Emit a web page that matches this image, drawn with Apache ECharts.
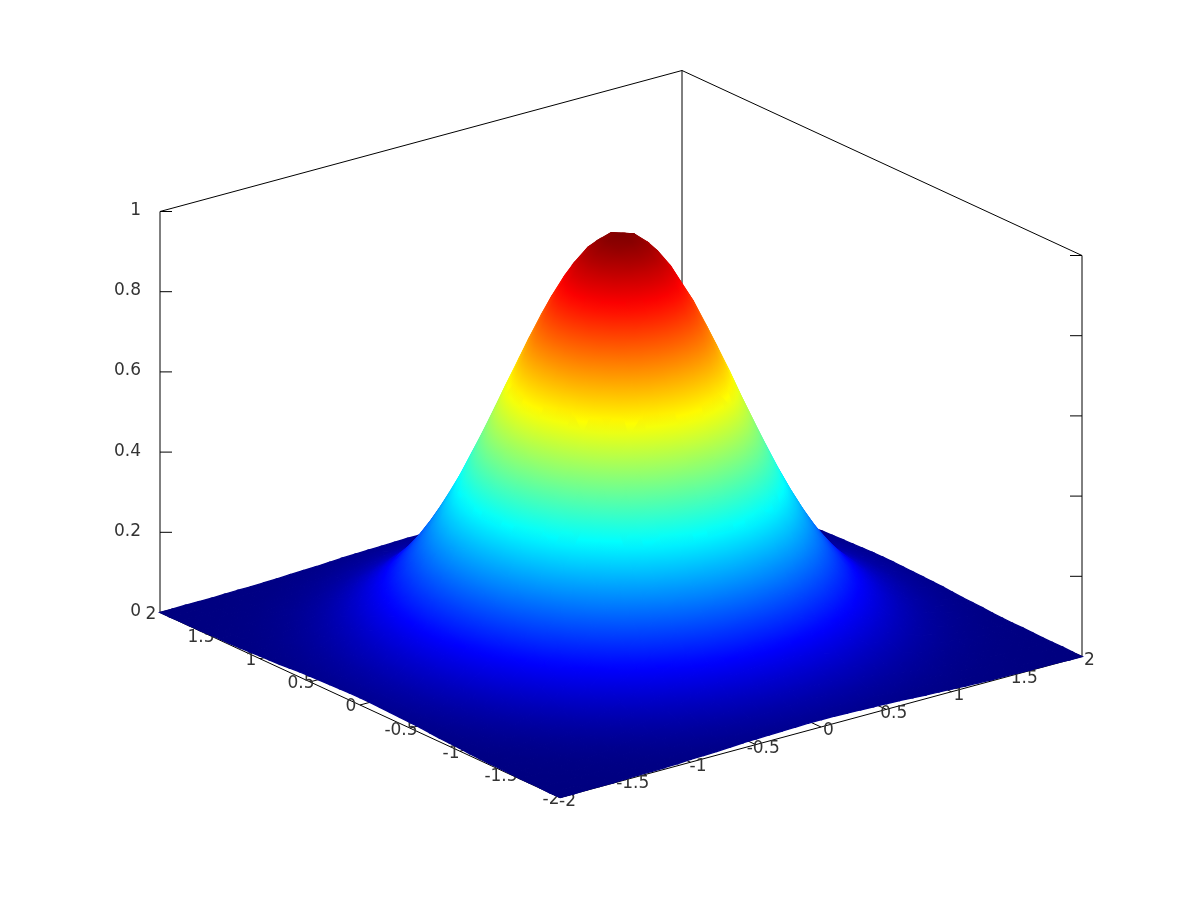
<!DOCTYPE html>
<html>
<head>
<meta charset="utf-8">
<style>
  html, body { margin: 0; background: #fff; }
  #main { width: 1200px; height: 900px; }
</style>
<script src="https://cdn.jsdelivr.net/npm/echarts@6/dist/echarts.min.js"></script>
</head>
<body>
<div id="main"></div>
<script type="text/javascript">
var xTicks = [-2, -1.5, -1, -0.5, 0, 0.5, 1, 1.5, 2];
var yTicks = [-2, -1.5, -1, -0.5, 0, 0.5, 1, 1.5, 2];
var zTicks = [0, 0.2, 0.4, 0.6, 0.8, 1];

// |x| and |y| of the mesh nodes; the hill is mirrored in both axes so one quadrant is listed
var gridValues = [0, .1, .2, .3, .4, .5, .6, .7, .8, .9, 1, 1.1, 1.2, 1.3, 1.4, 1.5, 1.6, 1.7, 1.8, 1.9, 2];

// surface height, one row per |y|, one column per |x|
var zRows = [
  [1, .990, .961, .914, .852, .779, .698, .613, .527, .445, .368, .298, .237, .185, .141, .105, .077, .056, .039, .027, .018],
  [.990, .980, .951, .905, .843, .771, .691, .607, .522, .441, .364, .295, .235, .183, .140, .104, .076, .055, .039, .027, .018],
  [.961, .951, .923, .878, .819, .749, .671, .589, .506, .428, .354, .286, .228, .178, .135, .101, .074, .054, .037, .026, .017],
  [.914, .905, .878, .835, .779, .712, .638, .560, .482, .407, .336, .272, .217, .169, .129, .096, .070, .051, .036, .025, .016],
  [.852, .843, .819, .779, .726, .664, .595, .522, .449, .379, .314, .254, .202, .158, .120, .089, .066, .048, .033, .023, .015],
  [.779, .771, .749, .712, .664, .607, .544, .478, .411, .347, .287, .232, .185, .144, .110, .082, .060, .044, .030, .021, .014],
  [.698, .691, .671, .638, .595, .544, .487, .428, .368, .311, .257, .208, .165, .129, .098, .073, .054, .039, .027, .019, .013],
  [.613, .607, .589, .560, .522, .478, .428, .376, .323, .273, .226, .183, .145, .113, .086, .064, .047, .034, .024, .017, .011],
  [.527, .522, .506, .482, .449, .411, .368, .323, .278, .235, .194, .157, .125, .097, .074, .055, .041, .030, .021, .014, .009],
  [.445, .441, .428, .407, .379, .347, .311, .273, .235, .198, .164, .133, .105, .082, .063, .047, .034, .025, .017, .012, .008],
  [.368, .364, .354, .336, .314, .287, .257, .226, .194, .164, .135, .110, .087, .068, .052, .039, .028, .021, .014, .010, .007],
  [.298, .295, .286, .272, .254, .232, .208, .183, .157, .133, .110, .089, .071, .055, .042, .031, .023, .017, .012, .008, .005],
  [.237, .235, .228, .217, .202, .185, .165, .145, .125, .105, .087, .071, .056, .044, .033, .025, .018, .013, .009, .006, .004],
  [.185, .183, .178, .169, .158, .144, .129, .113, .097, .082, .068, .055, .044, .034, .026, .019, .014, .010, .007, .005, .003],
  [.141, .140, .135, .129, .120, .110, .098, .086, .074, .063, .052, .042, .033, .026, .020, .015, .011, .008, .005, .004, .003],
  [.105, .104, .101, .096, .089, .082, .073, .064, .055, .047, .039, .031, .025, .019, .015, .011, .008, .006, .004, .003, .002],
  [.077, .076, .074, .070, .066, .060, .054, .047, .041, .034, .028, .023, .018, .014, .011, .008, .006, .004, .003, .002, .001],
  [.056, .055, .054, .051, .048, .044, .039, .034, .030, .025, .021, .017, .013, .010, .008, .006, .004, .003, .002, .002, .001],
  [.039, .039, .037, .036, .033, .030, .027, .024, .021, .017, .014, .012, .009, .007, .005, .004, .003, .002, .002, .001, .001],
  [.027, .027, .026, .025, .023, .021, .019, .017, .014, .012, .010, .008, .006, .005, .004, .003, .002, .002, .001, .001, 0],
  [.018, .018, .017, .016, .015, .014, .013, .011, .009, .008, .007, .005, .004, .003, .003, .002, .001, .001, .001, 0, 0]
];

var jetColors = ['#00007f', '#0000ff', '#0080ff', '#00ffff', '#80ff80', '#ffff00', '#ff8000', '#ff0000', '#7f0000'];

var fontStyle = '17px "DejaVu Sans"';
var n = gridValues.length - 1;

// view of the box, screen units per axis unit
function project(x, y, z) {
  return [
    621 + 130.5 * x - 100 * y,
    634.5 - 35.25 * x - 46.25 * y - 401 * z
  ];
}

function nodeX(i) { return i < n ? -gridValues[n - i] : gridValues[i - n]; }
function nodeZ(ix, iy) { return zRows[Math.abs(iy - n)][Math.abs(ix - n)]; }

// back corner first, so nearer cells paint over farther ones
var cells = [];
for (var iy = 2 * n - 1; iy >= 0; iy--) {
  for (var ix = 2 * n - 1; ix >= 0; ix--) {
    cells.push([ix, iy]);
  }
}

function cellFill(pts, zs) {
  var low = Math.min.apply(null, zs), high = Math.max.apply(null, zs);
  var mean = (zs[0] + zs[1] + zs[2] + zs[3]) / 4;
  var flat = echarts.color.lerp(mean, jetColors);
  var ax = pts[2][0] - pts[0][0], ay = pts[2][1] - pts[0][1], dza = zs[2] - zs[0];
  var bx = pts[3][0] - pts[1][0], by = pts[3][1] - pts[1][1], dzb = zs[3] - zs[1];
  var det = ax * by - ay * bx;
  if (Math.abs(det) < 20 || high - low < 0.0005) return flat;
  // plane through the cell centre, its slope gives the gradient direction on screen
  var gx = (dza * by - dzb * ay) / det;
  var gy = (ax * dzb - bx * dza) / det;
  var g2 = gx * gx + gy * gy;
  if (g2 === 0) return flat;
  var cx = (pts[0][0] + pts[1][0] + pts[2][0] + pts[3][0]) / 4;
  var cy = (pts[0][1] + pts[1][1] + pts[2][1] + pts[3][1]) / 4;
  var sx = cx + gx / g2 * (low - mean), sy = cy + gy / g2 * (low - mean);
  var ex = cx + gx / g2 * (high - mean), ey = cy + gy / g2 * (high - mean);
  if (Math.abs(ex - sx) + Math.abs(ey - sy) > 400) return flat;
  var stops = [];
  for (var k = 0; k <= 4; k++) {
    stops.push({ offset: k / 4, color: echarts.color.lerp(low + (high - low) * k / 4, jetColors) });
  }
  return new echarts.graphic.LinearGradient(sx, sy, ex, ey, stops, true);
}

function renderCell(params, api) {
  var c = cells[params.dataIndex];
  var ix = c[0], iy = c[1];
  var corners = [[ix, iy], [ix + 1, iy], [ix + 1, iy + 1], [ix, iy + 1]];
  var zs = corners.map(function (k) { return nodeZ(k[0], k[1]); });
  var pts = corners.map(function (k, i) {
    return api.coord(project(nodeX(k[0]), nodeX(k[1]), zs[i]));
  });
  var fill = cellFill(pts, zs);
  return {
    type: 'polygon',
    shape: { points: pts },
    style: { fill: fill, stroke: fill, lineWidth: 1.4 }
  };
}

function segment(api, a, b) {
  return {
    type: 'line',
    shape: { x1: a[0], y1: a[1], x2: b[0], y2: b[1] },
    style: { stroke: '#000', lineWidth: 1, fill: null }
  };
}

function renderFrame(params, api) {
  var kids = [];
  function edge(a, b) {
    kids.push(segment(api, api.coord(project(a[0], a[1], a[2])), api.coord(project(b[0], b[1], b[2]))));
  }
  // walls and floor
  edge([-2, 2, 0], [-2, 2, 1]);
  edge([2, 2, 0], [2, 2, 1]);
  edge([2, -2, 0], [2, -2, 1]);
  edge([-2, 2, 1], [2, 2, 1]);
  edge([2, 2, 1], [2, -2, 1]);
  edge([-2, -2, 0], [2, -2, 0]);
  edge([-2, -2, 0], [-2, 2, 0]);
  // floor ticks point into the box
  xTicks.forEach(function (v) { edge([v, -2, 0], [v, -1.9, 0]); });
  yTicks.forEach(function (v) { edge([-2, v, 0], [-1.9, v, 0]); });
  // wall ticks are horizontal on screen
  zTicks.forEach(function (v) {
    var left = api.coord(project(-2, 2, v));
    kids.push(segment(api, left, [left[0] + 12, left[1]]));
    var right = api.coord(project(2, -2, v));
    kids.push(segment(api, right, [right[0] - 12, right[1]]));
  });
  return { type: 'group', children: kids };
}

function label(pos, value, align) {
  return {
    type: 'text',
    style: {
      x: pos[0], y: pos[1], text: String(value), font: fontStyle, fill: '#333',
      textAlign: align, textVerticalAlign: 'middle'
    }
  };
}

function renderLabels(params, api) {
  var kids = [];
  xTicks.forEach(function (v) {
    var p = api.coord(project(v, -2, 0));
    kids.push(label([p[0] + 7.5, p[1] + 4], v, 'center'));
  });
  yTicks.forEach(function (v) {
    var p = api.coord(project(-2, v, 0));
    kids.push(label([p[0] - 9, p[1] + 2], v, 'center'));
  });
  zTicks.forEach(function (v) {
    var p = api.coord(project(-2, 2, v));
    kids.push(label([p[0] - 19, p[1] - 1], v, 'right'));
  });
  return { type: 'group', children: kids };
}

var myChart = echarts.init(document.getElementById('main'), null, { renderer: 'canvas' });
var option = {
  backgroundColor: '#fff',
  animation: false,
  grid: { left: 0, right: 0, top: 0, bottom: 0 },
  xAxis: { type: 'value', min: 0, max: 1200, show: false },
  yAxis: { type: 'value', min: 0, max: 900, inverse: true, show: false },
  series: [
    { type: 'custom', coordinateSystem: 'cartesian2d', z: 1, silent: true, clip: false, data: [[0, 0]], renderItem: renderFrame },
    { type: 'custom', coordinateSystem: 'cartesian2d', z: 2, silent: true, clip: false, data: [[0, 0]], renderItem: renderLabels },
    { type: 'custom', coordinateSystem: 'cartesian2d', z: 3, silent: true, clip: false, progressive: 0, data: cells, renderItem: renderCell }
  ]
};
myChart.setOption(option);
</script>
</body>
</html>
